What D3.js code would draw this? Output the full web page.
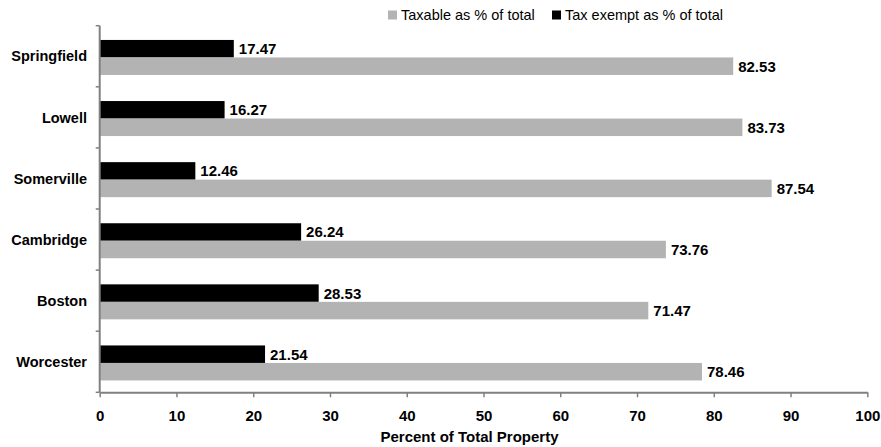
<!DOCTYPE html>
<html>
<head>
<meta charset="utf-8">
<script src="https://cdn.jsdelivr.net/npm/d3@7"></script>
<style>
  html, body { margin: 0; padding: 0; background: #fff; }
  svg { display: block; font-family: Arial, "Liberation Sans", sans-serif; }
</style>
</head>
<body>
<svg id="chart" width="881" height="447"></svg>
<script>
// Cities, top to bottom
const cities = ["Springfield", "Lowell", "Somerville", "Cambridge", "Boston", "Worcester"];
// Share of property value (%)
const taxExempt = [17.47, 16.27, 12.46, 26.24, 28.53, 21.54];
const taxable   = [82.53, 83.73, 87.54, 73.76, 71.47, 78.46];
const xTicks = [0, 10, 20, 30, 40, 50, 60, 70, 80, 90, 100];
const seriesNames = ["Taxable as % of total", "Tax exempt as % of total"];
const seriesColors = ["#b3b3b3", "#000000"];

const svg = d3.select("#chart");
const plotLeft = 99.7, plotRight = 867.3, plotTop = 25.7, plotBottom = 392.3;

const x = d3.scaleLinear().domain([0, 100]).range([plotLeft, plotRight]);
const y = d3.scaleBand().domain(cities).range([plotTop, plotBottom]).padding(0);
const barH = 17.5;

// bars: tax exempt (upper) and taxable (lower) within each band
const rows = cities.map((c, i) => ({ city: c, exempt: taxExempt[i], taxable: taxable[i] }));
const g = svg.append("g");

rows.forEach(r => {
  const mid = y(r.city) + y.bandwidth() / 2 + 1.2;
  g.append("rect")
    .attr("x", x(0)).attr("y", mid - barH)
    .attr("width", x(r.exempt) - x(0)).attr("height", barH)
    .attr("fill", seriesColors[1]);
  g.append("rect")
    .attr("x", x(0)).attr("y", mid)
    .attr("width", x(r.taxable) - x(0)).attr("height", barH)
    .attr("fill", seriesColors[0]);
  g.append("text")
    .attr("x", x(r.exempt) + 5).attr("y", mid - barH / 2)
    .attr("dy", "0.36em")
    .attr("font-size", 15).attr("font-weight", "bold")
    .text(r.exempt.toFixed(2));
  g.append("text")
    .attr("x", x(r.taxable) + 5).attr("y", mid + barH / 2)
    .attr("dy", "0.36em")
    .attr("font-size", 15).attr("font-weight", "bold")
    .text(r.taxable.toFixed(2));
});

// x axis
const xAxis = svg.append("g")
  .attr("transform", `translate(0,${plotBottom})`)
  .call(d3.axisBottom(x).tickValues(xTicks).tickSize(5).tickPadding(13).tickSizeOuter(0));
xAxis.select(".domain").attr("stroke", "#808080").attr("stroke-width", 2);
xAxis.selectAll(".tick line").attr("stroke", "#808080").attr("stroke-width", 1.5);
xAxis.selectAll(".tick text")
  .attr("font-size", 15).attr("font-weight", "bold").attr("fill", "#000")
  .attr("font-family", "Arial, 'Liberation Sans', sans-serif");

// y axis with ticks at band boundaries
const boundaries = cities.map(c => y(c)).concat([plotBottom]);
const yAxisG = svg.append("g");
yAxisG.append("line")
  .attr("x1", plotLeft).attr("x2", plotLeft).attr("y1", plotTop).attr("y2", plotBottom)
  .attr("stroke", "#808080").attr("stroke-width", 2);
yAxisG.selectAll("line.tk").data(boundaries).join("line")
  .attr("class", "tk")
  .attr("x1", plotLeft - 4).attr("x2", plotLeft).attr("y1", d => d).attr("y2", d => d)
  .attr("stroke", "#808080").attr("stroke-width", 1.5);
yAxisG.selectAll("text").data(cities).join("text")
  .attr("x", 87).attr("y", d => y(d) + y.bandwidth() / 2)
  .attr("dy", "0.36em")
  .attr("text-anchor", "end")
  .attr("font-size", 14.5).attr("font-weight", "bold")
  .text(d => d);

// axis title
svg.append("text")
  .attr("x", 469.5).attr("y", 436.7)
  .attr("dy", "0.36em")
  .attr("text-anchor", "middle")
  .attr("font-size", 15).attr("font-weight", "bold")
  .text("Percent of Total Property");

// legend
const legendX = [388, 552];
seriesNames.forEach((name, i) => {
  svg.append("rect")
    .attr("x", legendX[i]).attr("y", 10.5)
    .attr("width", 9).attr("height", 9)
    .attr("fill", seriesColors[i]);
  svg.append("text")
    .attr("x", legendX[i] + 13).attr("y", 15)
    .attr("dy", "0.36em")
    .attr("font-size", 14.5)
    .text(name);
});
</script>
</body>
</html>
